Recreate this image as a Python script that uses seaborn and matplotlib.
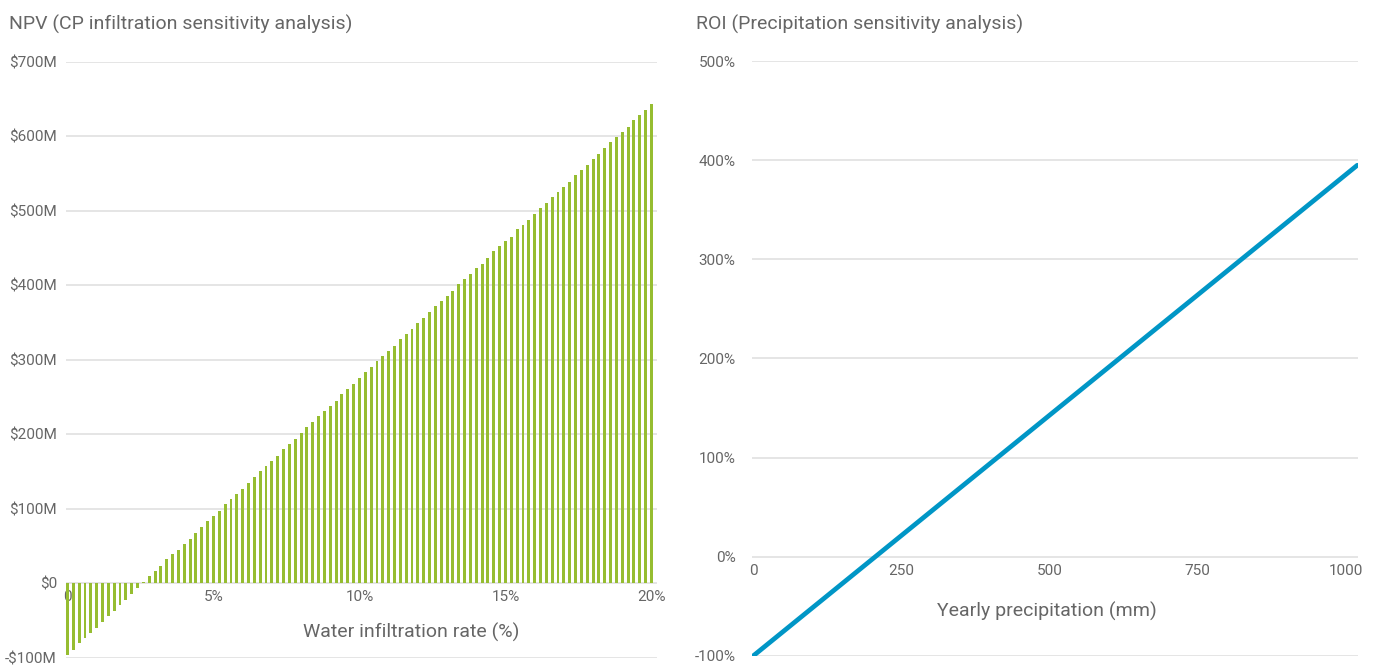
import numpy as np
import pandas as pd
import matplotlib
matplotlib.use("Agg")
import matplotlib.pyplot as plt
import seaborn as sns

# ---- data -------------------------------------------------------------
# Water infiltration rate categories (0% .. 20% in 0.2% steps)
infiltration_rate = np.round(np.arange(0, 101) * 0.2, 1)

# NPV in $M for each infiltration rate
npv_musd = [
    -96, -90, -80, -73, -67, -60, -52, -44, -37, -29,
    -22, -15, -6, 1, 9, 16, 23, 32, 39, 45,
    52, 60, 68, 75, 83, 90, 97, 106, 113, 120,
    126, 135, 143, 151, 157, 164, 171, 180, 187, 194,
    202, 209, 217, 225, 231, 238, 245, 254, 261, 268,
    276, 283, 290, 298, 305, 312, 318, 328, 334, 341,
    349, 356, 364, 372, 379, 385, 392, 401, 408, 415,
    423, 429, 437, 446, 452, 459, 465, 475, 481, 488,
    496, 503, 511, 519, 525, 532, 539, 548, 555, 562,
    570, 576, 584, 592, 599, 606, 613, 622, 629, 635,
    643,
]

npv_ticks = [-100, 0, 100, 200, 300, 400, 500, 600, 700]
npv_tick_labels = ["-$100M", "$0", "$100M", "$200M", "$300M",
                   "$400M", "$500M", "$600M", "$700M"]
rate_ticks = [0, 5, 10, 15, 20]
rate_tick_labels = ["0", "5%", "10%", "15%", "20%"]

# ROI (%) against yearly precipitation (mm)
precipitation_mm = [0, 1020]
roi_pct = [-100, 395]

roi_ticks = [-100, 0, 100, 200, 300, 400, 500]
roi_tick_labels = ["-100%", "0%", "100%", "200%", "300%", "400%", "500%"]
precip_ticks = [0, 250, 500, 750, 1000]
precip_tick_labels = ["0", "250", "500", "750", "1000"]

# ---- style ------------------------------------------------------------
GREEN = "#96bd31"
BLUE = "#0096c6"
TEXT = "#666666"
GRID = "#dedede"

sns.set_theme(style="white")
plt.rcParams["font.family"] = ["Roboto", "DejaVu Sans"]

W, H = 1382, 668
fig = plt.figure(figsize=(W / 100, H / 100), dpi=100)
fig.patch.set_facecolor("white")

ax1 = fig.add_axes([66 / W, 1 - 657.7 / H, (656.7 - 66) / W, (657.7 - 61.7) / H])
ax2 = fig.add_axes([752.3 / W, 1 - 655.8 / H, (1358 - 752.3) / W, (655.8 - 61.2) / H])

# ---- left: NPV bars ---------------------------------------------------
npv_df = pd.DataFrame({"rate": infiltration_rate, "npv": npv_musd})
sns.barplot(data=npv_df, x="rate", y="npv", native_scale=True, width=0.5,
            color=GREEN, saturation=1, linewidth=0, errorbar=None, ax=ax1)

ax1.set_xlim(-0.05, 20.18)
ax1.set_ylim(-100, 700)
ax1.set_yticks(npv_ticks)
ax1.set_yticklabels(npv_tick_labels)
ax1.set_xticks(rate_ticks)
ax1.set_xticklabels(rate_tick_labels)

# ---- right: ROI line --------------------------------------------------
roi_df = pd.DataFrame({"precip": precipitation_mm, "roi": roi_pct})
sns.lineplot(data=roi_df, x="precip", y="roi", color=BLUE, linewidth=3.4, ax=ax2)
for ln in ax2.lines:
    ln.set_solid_capstyle("round")

ax2.set_xlim(-1.7, 1021.2)
ax2.set_ylim(-100, 500)
ax2.set_yticks(roi_ticks)
ax2.set_yticklabels(roi_tick_labels)
ax2.set_xticks(precip_ticks)
ax2.set_xticklabels(precip_tick_labels)

# ---- shared axis styling ---------------------------------------------
for ax, ypad in ((ax1, 6.5), (ax2, 12)):
    ax.set_facecolor("white")
    ax.set_axisbelow(True)
    ax.grid(axis="y", color=GRID, linewidth=1.1)
    ax.grid(axis="x", visible=False)
    for side in ("left", "right", "top"):
        ax.spines[side].set_visible(False)
    # x labels sit on the zero line
    ax.spines["bottom"].set_position(("data", 0))
    ax.spines["bottom"].set_visible(False)
    ax.tick_params(axis="both", length=0, labelsize=11, labelcolor=TEXT)
    ax.tick_params(axis="x", pad=5)
    ax.tick_params(axis="y", pad=ypad)
    ax.set_ylabel("")

ax1.set_xlabel("Water infiltration rate (%)", fontsize=14, color=TEXT)
ax1.xaxis.set_label_coords((411 - 66) / 590.7, (657.7 - 632) / 596)
ax1.xaxis.label.set_va("center")

ax2.set_xlabel("Yearly precipitation (mm)", fontsize=14, color=TEXT)
ax2.xaxis.set_label_coords((1047 - 752.3) / 605.7, (655.8 - 611) / 594.6)
ax2.xaxis.label.set_va("center")

fig.text(9 / W, 1 - 29.3 / H, "NPV (CP infiltration sensitivity analysis)",
         fontsize=14, color=TEXT, va="baseline", ha="left")
fig.text(696 / W, 1 - 29.3 / H, "ROI (Precipitation sensitivity analysis)",
         fontsize=14, color=TEXT, va="baseline", ha="left")

fig.savefig("out.png", dpi=100)
